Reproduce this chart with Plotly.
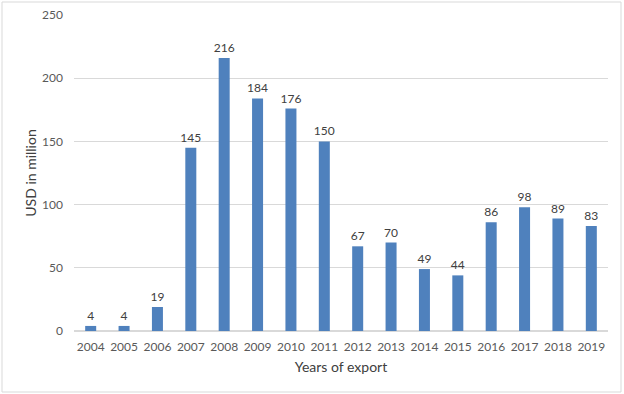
import plotly.graph_objects as go

years = ["2004", "2005", "2006", "2007", "2008", "2009", "2010", "2011",
         "2012", "2013", "2014", "2015", "2016", "2017", "2018", "2019"]
values = [4, 4, 19, 145, 216, 184, 176, 150, 67, 70, 49, 44, 86, 98, 89, 83]
y_ticks = [0, 50, 100, 150, 200, 250]

FONT = "Lato, 'Open Sans', sans-serif"

fig = go.Figure(go.Bar(
    x=years, y=values,
    marker=dict(color="#4f81bd", line=dict(width=0)),
    text=[str(v) for v in values],
    textposition="outside",
    constraintext="none",
    textfont=dict(family=FONT, size=12, color="#404040"),
    cliponaxis=False,
    hoverinfo="skip",
))

L, R, T, B = 74, 16, 15, 63
W, H = 624, 394
pw, ph = W - L - R, H - T - B

fig.update_layout(
    width=W, height=H,
    margin=dict(l=L, r=R, t=T, b=B, autoexpand=False),
    paper_bgcolor="white", plot_bgcolor="white",
    bargap=0.67,
    showlegend=False,
    font=dict(family=FONT, color="#595959"),
    xaxis=dict(
        type="category", automargin=False,
        showgrid=False, showline=True, linecolor="#d9d9d9", linewidth=1,
        ticks="", ticklabelstandoff=5, tickfont=dict(size=12, color="#595959"),
        title=dict(text="Years of export", font=dict(size=14, color="#404040"), standoff=8),
    ),
    yaxis=dict(
        range=[0, 250], tickvals=y_ticks, automargin=False,
        showgrid=True, gridcolor="#d9d9d9", gridwidth=1,
        zeroline=True, zerolinecolor="#d9d9d9",
        ticks="", ticklabelstandoff=10,
        tickfont=dict(size=12, color="#595959"),
        title=dict(text="USD in million", font=dict(size=14, color="#404040"), standoff=2),
    ),
    shapes=[dict(
        type="rect", xref="paper", yref="paper",
        x0=(2 - L) / pw, x1=(621 - L) / pw,
        y0=(T + ph - 392) / ph, y1=(T + ph - 2) / ph,
        line=dict(color="#d9d9d9", width=1), fillcolor="rgba(0,0,0,0)",
        layer="below",
    )],
)

fig.write_html("out.html", config={"displayModeBar": False},
               post_script="document.body.style.margin='0';")
